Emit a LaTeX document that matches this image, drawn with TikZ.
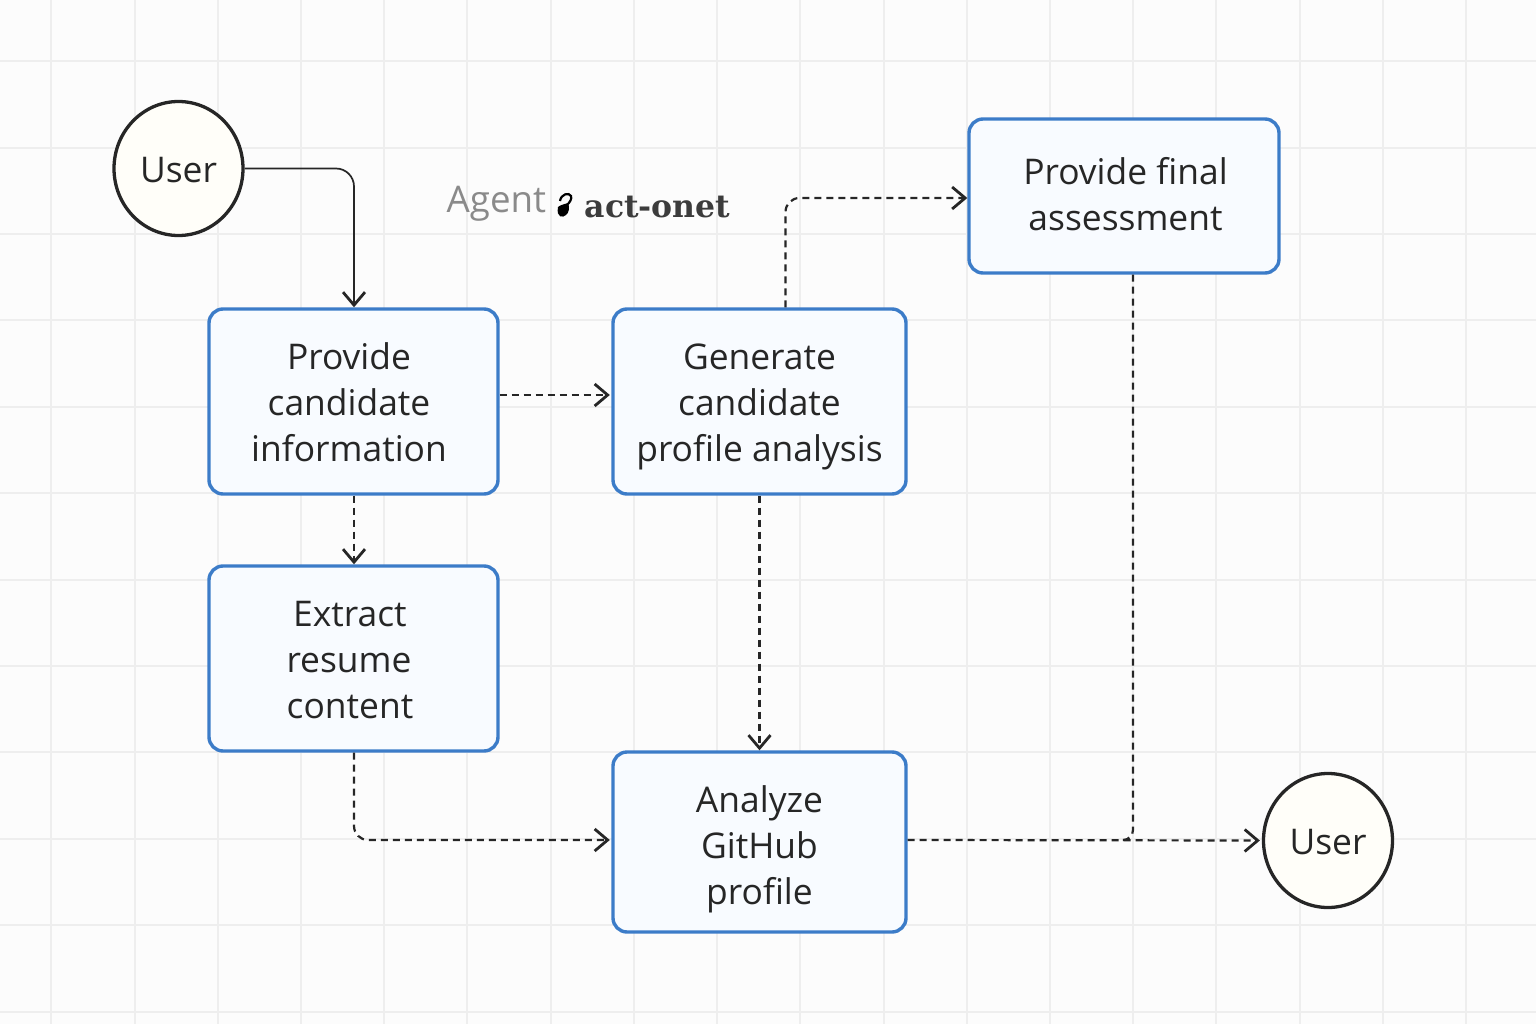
\documentclass[tikz,border=0pt]{standalone}
\usepackage{fontspec}
\setmainfont{Open Sans}
\newfontfamily\slabfont{DejaVu Serif}
\usetikzlibrary{arrows.meta, positioning, calc, shapes.geometric}
\definecolor{canvas}{HTML}{FCFCFC}
\definecolor{gridline}{HTML}{EEEEEE}
\definecolor{boxblue}{HTML}{3C7CC8}
\definecolor{boxfill}{HTML}{F8FBFF}
\definecolor{ivory}{HTML}{FFFEF9}
\definecolor{ink}{HTML}{262626}
\definecolor{agentgray}{HTML}{8A8A8A}
\newcommand{\toprule}[1]{\rule{0pt}{#1pt}}

\begin{document}
\begin{tikzpicture}[
  x=1pt, y=-1pt,
  >={Straight Barb[length=13pt, width=22pt, line width=2.8pt]},
  stepbox/.style={
    draw=boxblue, line width=3.4pt, fill=boxfill, rounded corners=14pt,
    font=\fontsize{35.4}{46}\selectfont, text=ink, align=center, inner sep=0pt},
  person/.style={
    ellipse, draw=ink, line width=3.3pt, fill=ivory, minimum width=129pt, minimum height=134pt,
    font=\fontsize{35.4}{40}\selectfont, text=ink, inner sep=0pt},
  flow/.style={->, ink, line width=2.2pt, dash pattern=on 7pt off 5pt, rounded corners=14pt},
  link/.style={->, ink, line width=1.7pt, rounded corners=18pt},
]

% Background canvas
\useasboundingbox (0,0) rectangle (1536,1024);
\fill[canvas] (0,0) rectangle (1536,1024);
\foreach \gx in {51,135,218,301,384,467,551,634,717,800,884,967,1050,1133,1216,1300,1383,1466}
  \draw[gridline, line width=1.5pt] (\gx,0) -- (\gx,1024);
\foreach \gy in {61,148,234,320,407,493,580,666,752,839,925,1012}
  \draw[gridline, line width=1.5pt] (0,\gy) -- (1536,\gy);

% === Users ===
\node[person] (userin) at (178.5,168.5) {\toprule{29}User};
\node[person] (userout) at (1328,840.5) {\toprule{29}User};

% === Step boxes ===
\node[stepbox, minimum width=289pt, minimum height=185pt] (provide) at (353.5,401.5)
  {\hspace*{-9pt}\toprule{28}Provide\\\hspace*{-9pt}candidate\\\hspace*{-9pt}information};
\node[stepbox, minimum width=289pt, minimum height=185pt] (extract) at (353.5,658.5)
  {\hspace*{-7pt}\toprule{28}Extract\\\hspace*{-9pt}resume\\\hspace*{-7pt}content};
\node[stepbox, minimum width=293pt, minimum height=185pt] (generate) at (759.5,401.5)
  {\toprule{36}Generate\\candidate\\profile analysis};
\node[stepbox, minimum width=293pt, minimum height=180pt] (analyze) at (759.5,842)
  {\toprule{42}Analyze\\GitHub\\profile};
\node[stepbox, minimum width=310pt, minimum height=154pt] (final) at (1124,196)
  {\hspace*{3pt}Provide final\\\hspace*{3pt}assessment\rule[-4pt]{0pt}{0pt}};

% === Agent caption ===
\node[font=\fontsize{36.7}{40}\selectfont, text=agentgray, anchor=base west, inner sep=0pt] (agent) at (446.5,213) {Agent};
\node[font=\slabfont\bfseries\fontsize{31.5}{34}\selectfont, text=ink!90, anchor=base west, inner sep=0pt] (onet) at (584.5,218) {act-onet};
\fill[black] (558,207) .. controls (560,205) and (565,204) .. (568,203)
  .. controls (570,207) and (569,213) .. (566,215)
  .. controls (563,218) and (556,218) .. (558,207) -- cycle;
\draw[black, line width=2.2pt] (560,201) .. controls (561,194) and (569,192) .. (571,196)
  .. controls (572,199) and (570,202) .. (567,205);

% === Connectors ===
\draw[link] (userin.east) -| ([xshift=0.5pt]provide.north);
\draw[flow] ([yshift=6.5pt]provide.east) -- ([yshift=6.5pt,xshift=-1.5pt]generate.west);
\draw[flow] ([xshift=0.5pt]provide.south) -- ([xshift=0.5pt]extract.north);
\draw[flow] (generate.south) -- (analyze.north);
\draw[flow] ([xshift=0.5pt]extract.south) |- ([yshift=2pt,xshift=-1.5pt]analyze.west);
\draw[flow] ([xshift=26pt]generate.north) |- ([yshift=-2pt]final.west);
\coordinate (merge) at (1120,840);
\draw[ink, line width=2.2pt, dash pattern=on 7pt off 5pt, rounded corners=10pt]
  ([xshift=9pt]final.south) |- (merge);
\draw[flow] ([yshift=2pt]analyze.east) -- ([xshift=-2pt]userout.west);

\end{tikzpicture}
\end{document}
